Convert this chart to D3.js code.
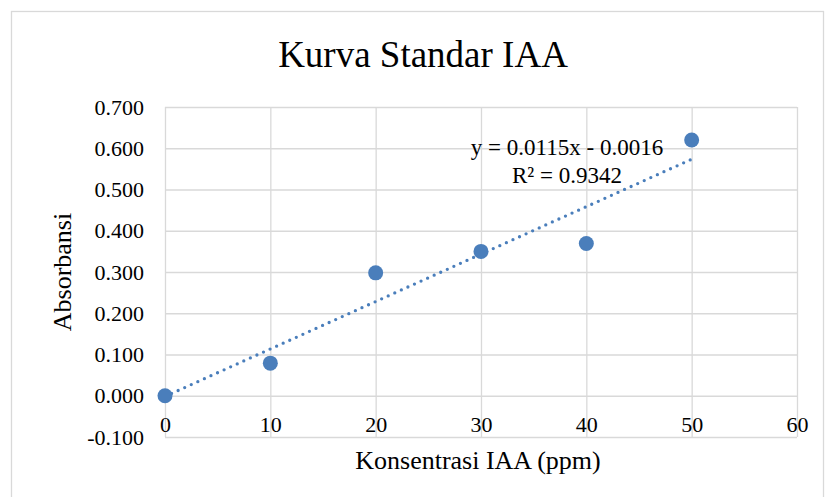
<!DOCTYPE html>
<html>
<head>
<meta charset="utf-8">
<script src="https://cdn.jsdelivr.net/npm/d3@7"></script>
<style>
  body { margin: 0; background: #fff; }
  svg, svg text { font-family: "Liberation Serif", "Times New Roman", serif; }
  svg { display: block; }
</style>
</head>
<body>
<div id="container"></div>
<script>
const width = 825;
const height = 497;

// data
const konsentrasi = [0, 10, 20, 30, 40, 50];
const absorbansi = [0, 0.079, 0.298, 0.35, 0.369, 0.62];
const xTicks = [0, 10, 20, 30, 40, 50, 60];
const yTicks = [-0.1, 0, 0.1, 0.2, 0.3, 0.4, 0.5, 0.6, 0.7];
const slope = 0.0115;
const intercept = -0.0016;
const trendRange = [0, 50];
const eqLabels = ["y = 0.0115x - 0.0016", "R² = 0.9342"];

const blue = "#4a7ebb";
const grid = "#d9d9d9";

const svg = d3
  .select("#container")
  .append("svg")
  .attr("width", width)
  .attr("height", height);

// chart frame
svg
  .append("rect")
  .attr("x", 11.5)
  .attr("y", 11.5)
  .attr("width", 812)
  .attr("height", 500)
  .attr("fill", "none")
  .attr("stroke", grid)
  .attr("stroke-width", 1.3);

const xScale = d3.scaleLinear().domain([0, 60]).range([165, 797]);
const yScale = d3.scaleLinear().domain([-0.1, 0.7]).range([437, 107]);

// horizontal gridlines + y labels
const yAxis = svg
  .append("g")
  .attr("transform", `translate(${xScale(0)},0)`)
  .call(
    d3
      .axisLeft(yScale)
      .tickValues(yTicks)
      .tickSize(-(xScale(60) - xScale(0)))
      .tickPadding(21)
      .tickFormat((d) => d.toFixed(3))
  )
  .attr("font-family", null)
  .attr("font-size", null);
yAxis.select(".domain").remove();
yAxis.selectAll("line").attr("stroke", grid).attr("stroke-width", 1.3);
yAxis.selectAll("text").attr("fill", "#000").style("font-size", "22px");

// vertical gridlines
const xGrid = svg
  .append("g")
  .attr("transform", `translate(0,${yScale(-0.1)})`)
  .call(
    d3
      .axisBottom(xScale)
      .tickValues(xTicks)
      .tickSize(-(yScale(-0.1) - yScale(0.7)))
      .tickFormat("")
  );
xGrid.select(".domain").remove();
xGrid.selectAll("line").attr("stroke", grid).attr("stroke-width", 1.3);

// x labels sit just under the zero line
const xAxis = svg
  .append("g")
  .attr("transform", `translate(0,${yScale(0)})`)
  .call(d3.axisBottom(xScale).tickValues(xTicks).tickSize(0).tickPadding(21))
  .attr("font-family", null)
  .attr("font-size", null);
xAxis.select(".domain").remove();
xAxis.selectAll("text").attr("fill", "#000").style("font-size", "22px");

// linear trendline
const line = d3
  .line()
  .x((d) => xScale(d))
  .y((d) => yScale(slope * d + intercept));
svg
  .append("path")
  .datum(trendRange)
  .attr("d", line)
  .attr("fill", "none")
  .attr("stroke", blue)
  .attr("stroke-width", 3.3)
  .attr("stroke-linecap", "round")
  .attr("stroke-dasharray", "0,7.2");

// points
svg
  .selectAll("circle.pt")
  .data(konsentrasi)
  .enter()
  .append("circle")
  .attr("class", "pt")
  .attr("cx", (d) => xScale(d))
  .attr("cy", (d, i) => yScale(absorbansi[i]))
  .attr("r", 7.5)
  .attr("fill", blue);

// equation label
svg
  .selectAll("text.eq")
  .data(eqLabels)
  .enter()
  .append("text")
  .attr("class", "eq")
  .attr("x", 567)
  .attr("y", (d, i) => 155 + i * 28)
  .attr("text-anchor", "middle")
  .style("font-size", "23px")
  .text((d) => d);

// titles
svg
  .append("text")
  .attr("x", 423)
  .attr("y", 67)
  .attr("text-anchor", "middle")
  .style("font-size", "37px")
  .text("Kurva Standar IAA");

svg
  .append("text")
  .attr("x", 478)
  .attr("y", 469)
  .attr("text-anchor", "middle")
  .style("font-size", "26px")
  .text("Konsentrasi IAA (ppm)");

svg
  .append("text")
  .attr("transform", "translate(71,272) rotate(-90)")
  .attr("text-anchor", "middle")
  .style("font-size", "26px")
  .text("Absorbansi");
</script>
</body>
</html>
